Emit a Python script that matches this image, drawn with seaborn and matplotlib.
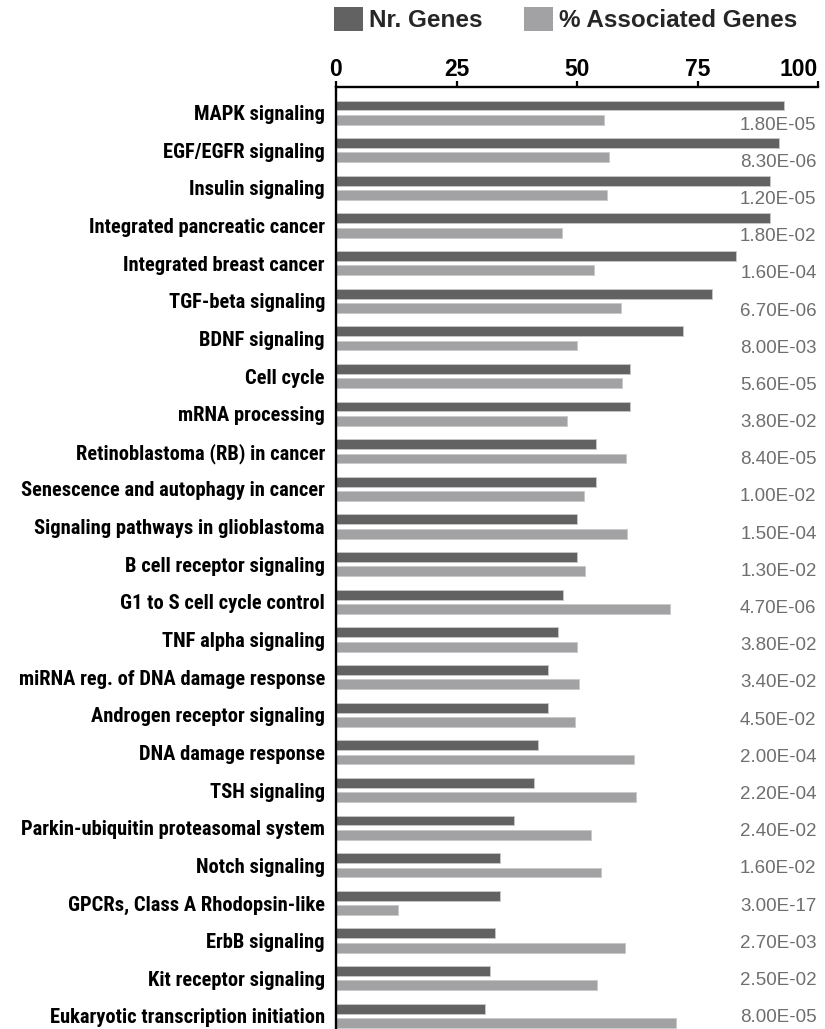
import matplotlib
matplotlib.use("Agg")
import matplotlib.pyplot as plt
from matplotlib import font_manager
import seaborn as sns
import pandas as pd
import numpy as np

pathways = [
    "MAPK signaling", "EGF/EGFR signaling", "Insulin signaling",
    "Integrated pancreatic cancer", "Integrated breast cancer", "TGF-beta signaling",
    "BDNF signaling", "Cell cycle", "mRNA processing", "Retinoblastoma (RB) in cancer",
    "Senescence and autophagy in cancer", "Signaling pathways in glioblastoma",
    "B cell receptor signaling", "G1 to S cell cycle control", "TNF alpha signaling",
    "miRNA reg. of DNA damage response", "Androgen receptor signaling",
    "DNA damage response", "TSH signaling", "Parkin-ubiquitin proteasomal system",
    "Notch signaling", "GPCRs, Class A Rhodopsin-like", "ErbB signaling",
    "Kit receptor signaling", "Eukaryotic transcription initiation",
]
nr_genes = [93, 92, 90, 90, 83, 78, 72, 61, 61, 54, 54, 50, 50, 47, 46, 44, 44, 42, 41, 37,
            34, 34, 33, 32, 31]
pct_assoc = [55.5, 56.6, 56.2, 46.8, 53.6, 59.1, 50.0, 59.3, 48.0, 60.1, 51.5, 60.4,
             51.6, 69.2, 50.0, 50.5, 49.5, 61.8, 62.2, 52.9, 54.9, 12.8, 60.0, 54.2, 70.6]
p_values = ["1.80E-05", "8.30E-06", "1.20E-05", "1.80E-02", "1.60E-04", "6.70E-06",
            "8.00E-03", "5.60E-05", "3.80E-02", "8.40E-05", "1.00E-02", "1.50E-04",
            "1.30E-02", "4.70E-06", "3.80E-02", "3.40E-02", "4.50E-02", "2.00E-04",
            "2.20E-04", "2.40E-02", "1.60E-02", "3.00E-17", "2.70E-03", "2.50E-02",
            "8.00E-05"]
series_names = ["Nr. Genes", "% Associated Genes"]
x_ticks = [0, 25, 50, 75, 100]

DARK = "#626262"
LIGHT = "#a2a1a6"

sns.set_theme(style="white")
plt.rcParams["font.family"] = ["Liberation Sans", "DejaVu Sans"]

# a narrow bold sans for the category labels (like Arial Narrow), if one is installed
names = {f.name for f in font_manager.fontManager.ttflist}
candidates = ["Liberation Sans Narrow", "Arial Narrow", "Roboto Condensed", "Archivo Narrow",
              "PT Sans Narrow", "Pragati Narrow", "Barlow Semi Condensed", "Liberation Sans"]
label_family = next(c for c in candidates if c in names or c == "Liberation Sans")

df = pd.DataFrame({
    "pathway": pathways * 2,
    "measure": [series_names[0]] * len(pathways) + [series_names[1]] * len(pathways),
    "value": nr_genes + pct_assoc,
})

fig = plt.figure(figsize=(8.25, 10.29), dpi=100)
ax = fig.add_axes([336 / 825, 0.0, 482 / 825, 1 - 87 / 1029])

# size the label font so that the longest label spans the same width as in the reference
renderer = fig.canvas.get_renderer()
probe = fig.text(0, 0, "Eukaryotic transcription initiation", fontsize=14,
                 fontweight="bold", family=[label_family, "DejaVu Sans"])
w = probe.get_window_extent(renderer).width
probe.remove()
label_size = min(15.0, 14 * 276 / w)

sns.barplot(data=df, y="pathway", x="value", hue="measure", orient="h",
            palette=[DARK, LIGHT], width=0.76, ax=ax, order=pathways,
            hue_order=series_names, edgecolor="#c8c8c8", linewidth=0.6)

bar_h = 0.262
for p in ax.patches:
    if p.get_height() > 0 and p.get_width() > 0:
        c = p.get_y() + p.get_height() / 2
        p.set_height(bar_h)
        p.set_y(c - bar_h / 2)

ax.set_xlim(0, 100)
ax.set_ylim(len(pathways) - 1 + 0.35, -0.68)
ax.set_xticks(x_ticks)
ax.set_xticklabels([str(t) for t in x_ticks])
ax.xaxis.tick_top()
ax.xaxis.set_label_position("top")
ax.set_xlabel("")
ax.set_ylabel("")
ax.tick_params(axis="x", which="both", top=True, bottom=False, direction="out",
               length=4, width=1.6, color="black", pad=0.5, labelsize=16.5)
for lbl in ax.get_xticklabels():
    lbl.set_fontweight("bold")
    lbl.set_color("black")
ax.get_xticklabels()[-1].set_horizontalalignment("right")
ax.tick_params(axis="y", left=False, length=0, pad=8)
for lbl in ax.get_yticklabels():
    lbl.set_fontfamily([label_family, "DejaVu Sans"])
    lbl.set_fontsize(label_size)
    lbl.set_fontweight("bold")
    lbl.set_color("black")

for s in ["right", "bottom"]:
    ax.spines[s].set_visible(False)
for s in ["left", "top"]:
    ax.spines[s].set_visible(True)
    ax.spines[s].set_color("black")
    ax.spines[s].set_linewidth(1.7)
ax.grid(False)

for i, pv in enumerate(p_values):
    ax.text(99.7, 0.33 + i * 0.9884, pv, ha="right", va="center",
            fontsize=13.5, color="#6e6e6e", family="Liberation Sans")

handles, labels = ax.get_legend_handles_labels()
if ax.get_legend() is not None:
    ax.get_legend().remove()
leg = fig.legend(handles, labels, loc="upper left",
                 bbox_to_anchor=(334 / 825, 1 - 7 / 1029), ncol=2, frameon=False,
                 borderpad=0, borderaxespad=0, handlelength=1.19, handleheight=1.15,
                 handletextpad=0.25, columnspacing=1.7,
                 prop={"family": "Liberation Sans", "weight": "bold", "size": 17.5})
for h in leg.legend_handles:
    h.set_edgecolor("none")

fig.savefig("out.png", dpi=100)
